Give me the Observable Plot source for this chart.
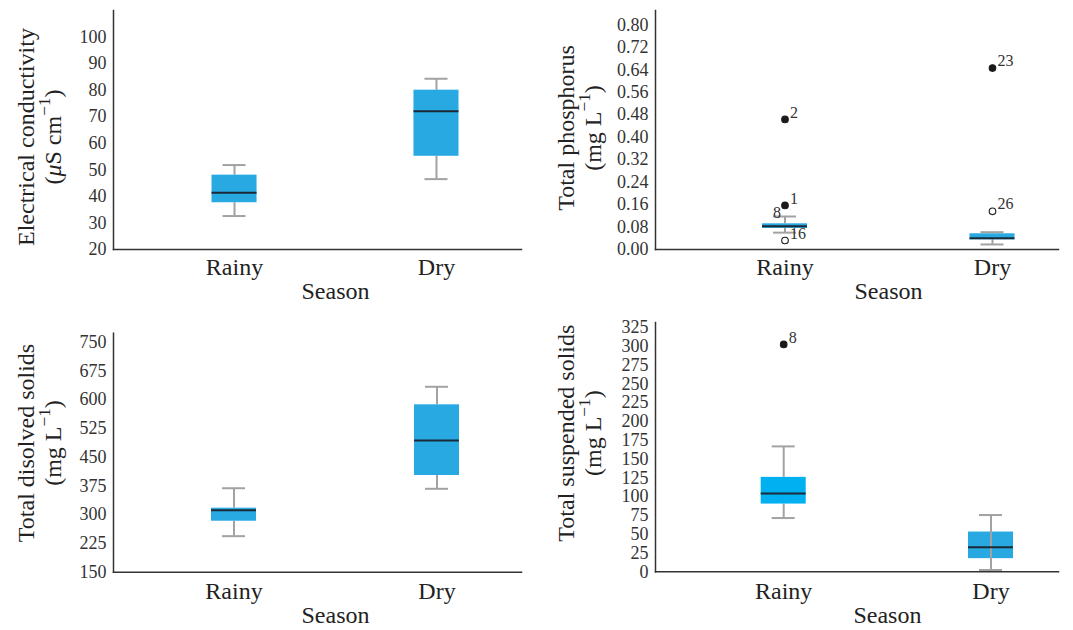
<!DOCTYPE html>
<html>
<head>
<meta charset="utf-8">
<script src="https://cdn.jsdelivr.net/npm/d3@7"></script>
<script src="https://cdn.jsdelivr.net/npm/@observablehq/plot@0.6"></script>
<style>
  body { margin: 0; background: #fff; font-family: 'Liberation Serif', serif; }
  #wrap { position: relative; width: 1073px; height: 630px; background: #fff; }
  .panel { position: absolute; font-family: 'Liberation Serif', serif; }
</style>
</head>
<body>
<div id="wrap"></div>
<script>
// ---------- data ----------
const seasons = ["Rainy", "Dry"];

// Electrical conductivity (µS cm-1)
const ecLow = [32.6, 46.5];
const ecQ1 = [37.6, 55.1];
const ecMedian = [41.4, 72.1];
const ecQ3 = [48.0, 80.0];
const ecHigh = [51.8, 84.3];
const ecTicks = [20, 30, 40, 50, 60, 70, 80, 90, 100];

// Total phosphorus (mg L-1)
const tpLow = [0.060, 0.018];
const tpQ1 = [0.075, 0.0345];
const tpMedian = [0.083, 0.040];
const tpQ3 = [0.0915, 0.056];
const tpHigh = [0.1175, 0.0616];
const tpTicks = [0, 0.08, 0.16, 0.24, 0.32, 0.40, 0.48, 0.56, 0.64, 0.72, 0.80];
const tpOutSeason = ["Rainy", "Rainy", "Rainy", "Dry", "Dry"];
const tpOutValue = [0.463, 0.157, 0.032, 0.646, 0.136];
const tpOutLabel = ["2", "1", "16", "23", "26"];
const tpOutFilled = [true, true, false, true, false];
const tpTagSeason = ["Rainy"];
const tpTagValue = [0.1175];
const tpTagLabel = ["8"];

// Total dissolved solids (mg L-1)
const tdsLow = [244, 367.6];
const tdsQ1 = [283, 402.3];
const tdsMedian = [311.8, 493.6];
const tdsQ3 = [317, 586.7];
const tdsHigh = [369, 633.7];
const tdsTicks = [150, 225, 300, 375, 450, 525, 600, 675, 750];

// Total suspended solids (mg L-1)
const tssLow = [71.5, 2.4];
const tssQ1 = [90.1, 17.5];
const tssMedian = [104.3, 32.6];
const tssQ3 = [125.6, 52.9];
const tssHigh = [166.8, 75.5];
const tssTicks = [0, 25, 50, 75, 100, 125, 150, 175, 200, 225, 250, 275, 300, 325];
const tssOutSeason = ["Rainy"];
const tssOutValue = [302.4];
const tssOutLabel = ["8"];
const tssOutFilled = [true];

// ---------- styles ----------
const FONT = "'Liberation Serif', serif";
const BOX = "#29a9e1";
const BOX_BRIGHT = "#00b0f0";
const WHISKER = "#a2a2a2";
const MEDIAN = "#1b2a36";
const AXIS = "#333";

function panel(cfg) {
  const rows = seasons.map((s, i) => ({
    season: s, low: cfg.low[i], q1: cfg.q1[i], med: cfg.med[i], q3: cfg.q3[i], high: cfg.high[i],
    fill: cfg.fills[i], over: cfg.whiskerOver ? cfg.whiskerOver[i] : false
  }));
  const outs = (cfg.outSeason || []).map((s, i) => ({
    season: s, value: cfg.outValue[i], label: cfg.outLabel[i], filled: cfg.outFilled[i]
  }));
  const tags = (cfg.tagSeason || []).map((s, i) => ({season: s, value: cfg.tagValue[i], label: cfg.tagLabel[i]}));
  const under = rows.filter(d => !d.over);
  const over = rows.filter(d => d.over);
  const marks = [
    Plot.axisY({ticks: cfg.ticks, tickSize: 0, tickPadding: 7, fontSize: 18, tickFormat: cfg.tickFormat, label: null, fill: AXIS}),
    Plot.axisX({tickSize: 0, tickPadding: cfg.xPad, fontSize: 24, label: null, fill: "#222"}),
    Plot.ruleX(under, {x: "season", y1: "low", y2: "q1", stroke: WHISKER, strokeWidth: 2}),
    Plot.ruleX(under, {x: "season", y1: "q3", y2: "high", stroke: WHISKER, strokeWidth: 2}),
    Plot.barY(rows, {x: "season", y1: "q1", y2: "q3", fill: "fill"}),
    Plot.ruleX(over, {x: "season", y1: "low", y2: "high", stroke: WHISKER, strokeWidth: 2}),
    Plot.tickY(rows, {x: "season", y: "low", stroke: WHISKER, strokeWidth: 2, insetLeft: 11, insetRight: 11}),
    Plot.tickY(rows, {x: "season", y: "high", stroke: WHISKER, strokeWidth: 2, insetLeft: 11, insetRight: 11}),
    Plot.tickY(rows, {x: "season", y: "med", stroke: MEDIAN, strokeWidth: 2}),
    Plot.dot(outs, {x: "season", y: "value", r: 3.3, fill: d => d.filled ? "#1a1a1a" : "#ffffff", stroke: "#1a1a1a", strokeWidth: 1.1}),
    Plot.text(outs, {x: "season", y: "value", text: "label", textAnchor: "start", dx: 5, dy: -7, fontSize: 16, fill: "#333"}),
    Plot.text(tags, {x: "season", y: "value", text: "label", textAnchor: "end", dx: -4, dy: -4, fontSize: 16, fill: "#333"}),
    Plot.frame({anchor: "left", stroke: AXIS, strokeWidth: 1.5}),
    Plot.frame({anchor: "bottom", stroke: AXIS, strokeWidth: 1.5}),
    Plot.text([cfg.title1], {frameAnchor: "left", text: d => d, rotate: -90, dx: cfg.t1dx, dy: cfg.tdy, fontSize: 24, fill: "#222", textAnchor: "middle", lineAnchor: "middle"}),
    Plot.text([cfg.title2], {frameAnchor: "left", text: d => d, rotate: -90, dx: cfg.t2dx, dy: cfg.tdy, fontSize: 24, fill: "#222", textAnchor: "middle", lineAnchor: "middle"}),
    Plot.text(["Season"], {frameAnchor: "bottom", text: d => d, dx: cfg.sdx, dy: cfg.sdy, fontSize: 24, fill: "#222", lineAnchor: "top"})
  ];
  const svg = Plot.plot({
    width: cfg.width, height: cfg.height,
    marginLeft: cfg.ml, marginRight: cfg.mr, marginTop: cfg.mt, marginBottom: cfg.mb,
    x: {type: "band", domain: seasons, range: cfg.xRange, paddingInner: cfg.pi, paddingOuter: 0, align: 0.5, round: false},
    y: {domain: cfg.yDomain, nice: false},
    marks
  });
  // force the serif font on the svg and every text element
  svg.style.fontFamily = FONT;
  svg.style.background = "transparent";
  svg.style.overflow = "visible";
  d3.select(svg).selectAll("g").attr("font-family", null);
  d3.select(svg).selectAll("text").style("font-family", FONT);
  // superscript -1 and italic mu in unit lines
  d3.select(svg).selectAll("text").each(function () {
    const t = this.textContent;
    if (t.indexOf("⁻¹") >= 0 && this.children.length === 0) {
      const before = t.slice(0, t.indexOf("⁻¹"));
      const after = t.slice(t.indexOf("⁻¹") + 2);
      const el = d3.select(this);
      el.text(null);
      const mu = before.indexOf("μ");
      if (mu >= 0) {
        el.append("tspan").text(before.slice(0, mu));
        el.append("tspan").attr("font-style", "italic").text("μ");
        el.append("tspan").text(before.slice(mu + 1));
      } else {
        el.append("tspan").text(before);
      }
      el.append("tspan").attr("font-size", "72%").attr("dy", "-0.62em").text("−1");
      el.append("tspan").attr("dy", "0.45em").text(after);
    }
  });
  const div = document.createElement("div");
  div.className = "panel";
  div.style.left = cfg.left + "px";
  div.style.top = cfg.top + "px";
  div.appendChild(svg);
  document.getElementById("wrap").appendChild(div);
}

panel({
  left: 0, top: 0, width: 540, height: 310, ml: 113, mr: 19, mt: 10, mb: 61,
  xRange: [211.5, 458.5], pi: 0.777, yDomain: [20, 110], ticks: ecTicks, tickFormat: d3.format("d"),
  low: ecLow, q1: ecQ1, med: ecMedian, q3: ecQ3, high: ecHigh, fills: [BOX, BOX],
  title1: "Electrical conductivity", title2: "(μS cm⁻¹)", t1dx: -87, t2dx: -60, tdy: 7,
  xPad: 8, sdx: 18, sdy: 32
});

panel({
  left: 540, top: 0, width: 533, height: 310, ml: 115, mr: 15, mt: 10, mb: 61,
  xRange: [222, 474.5], pi: 0.7831, yDomain: [0, 0.851], ticks: tpTicks, tickFormat: d3.format(".2f"),
  low: tpLow, q1: tpQ1, med: tpMedian, q3: tpQ3, high: tpHigh, fills: [BOX, BOX],
  outSeason: tpOutSeason, outValue: tpOutValue, outLabel: tpOutLabel, outFilled: tpOutFilled,
  tagSeason: tpTagSeason, tagValue: tpTagValue, tagLabel: tpTagLabel,
  title1: "Total phosphorus", title2: "(mg L⁻¹)", t1dx: -89, t2dx: -62, tdy: -2,
  xPad: 8, sdx: 31.5, sdy: 32
});

panel({
  left: 0, top: 310, width: 540, height: 320, ml: 113, mr: 19, mt: 22.7, mb: 58.3,
  xRange: [211, 459], pi: 0.7783, yDomain: [150, 773.5], ticks: tdsTicks, tickFormat: d3.format("d"),
  low: tdsLow, q1: tdsQ1, med: tdsMedian, q3: tdsQ3, high: tdsHigh, fills: [BOX, BOX],
  title1: "Total disolved solids", title2: "(mg L⁻¹)", t1dx: -87, t2dx: -60, tdy: -9.7,
  xPad: 10, sdx: 18, sdy: 34
});

panel({
  left: 540, top: 310, width: 533, height: 320, ml: 115, mr: 15, mt: 12, mb: 58.7,
  xRange: [220.7, 473], pi: 0.7829, yDomain: [0, 331.6], ticks: tssTicks, tickFormat: d3.format("d"),
  low: tssLow, q1: tssQ1, med: tssMedian, q3: tssQ3, high: tssHigh, fills: [BOX_BRIGHT, BOX], whiskerOver: [false, true],
  outSeason: tssOutSeason, outValue: tssOutValue, outLabel: tssOutLabel, outFilled: tssOutFilled,
  title1: "Total suspended solids", title2: "(mg L⁻¹)", t1dx: -89, t2dx: -62, tdy: -14,
  xPad: 10, sdx: 30.4, sdy: 34
});
</script>
</body>
</html>
